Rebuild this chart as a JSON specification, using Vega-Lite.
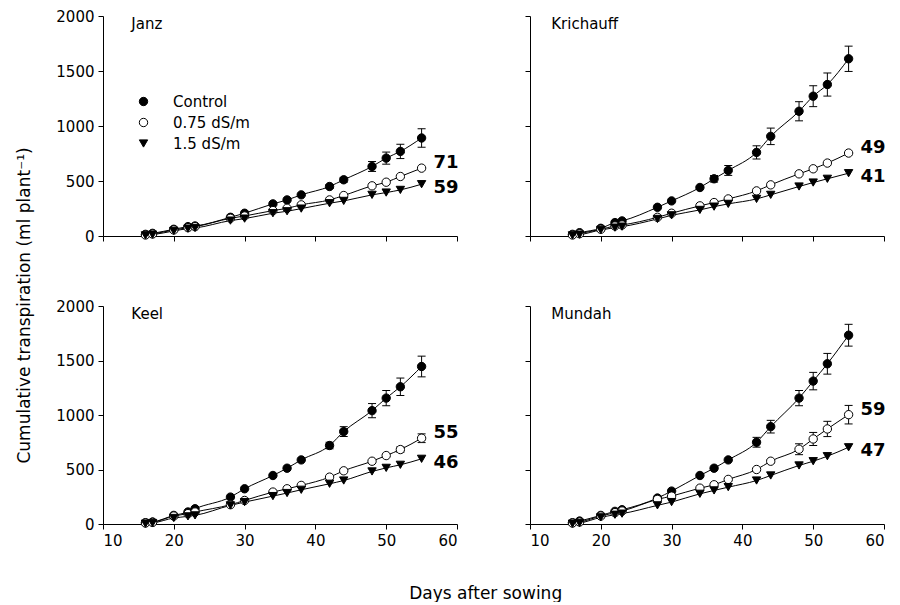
{
"$schema": "https://vega.github.io/schema/vega-lite/v6.json",
"padding": {"left": 15, "top": 9, "right": 0, "bottom": 0},
"background": "white",
"config": {
 "font": "DejaVu Sans",
 "view": {"stroke": null},
 "axis": {"domainColor": "black", "tickColor": "black", "labelColor": "black", "grid": false, "labelFontSize": 15, "tickSize": 5, "labelPadding": 4, "domainWidth": 1, "tickWidth": 1, "format": "d"},
 "title": {"fontSize": 17, "fontWeight": "normal", "color": "black"}
},
"title": {"text": "Cumulative transpiration (ml plant⁻¹)", "orient": "left", "anchor": "middle", "offset": 22, "fontSize": 17, "fontWeight": "normal"},
"data": {"values": [
{"site":"Janz","trt":"Control","day":16,"v":15},{"site":"Janz","trt":"Control","day":17,"v":24},{"site":"Janz","trt":"Control","day":20,"v":61},{"site":"Janz","trt":"Control","day":22,"v":85},{"site":"Janz","trt":"Control","day":23,"v":91},{"site":"Janz","trt":"Control","day":28,"v":170},{"site":"Janz","trt":"Control","day":30,"v":207},{"site":"Janz","trt":"Control","day":34,"v":292},{"site":"Janz","trt":"Control","day":36,"v":328},{"site":"Janz","trt":"Control","day":38,"v":374},{"site":"Janz","trt":"Control","day":42,"v":450,"lo":432,"hi":468},{"site":"Janz","trt":"Control","day":44,"v":511,"lo":489,"hi":533},{"site":"Janz","trt":"Control","day":48,"v":632,"lo":587,"hi":677},{"site":"Janz","trt":"Control","day":50,"v":708,"lo":653,"hi":763},{"site":"Janz","trt":"Control","day":52,"v":769,"lo":704,"hi":834},{"site":"Janz","trt":"Control","day":55,"v":891,"lo":807,"hi":975},
{"site":"Janz","trt":"0.75 dS/m","day":16,"v":9},{"site":"Janz","trt":"0.75 dS/m","day":17,"v":18},{"site":"Janz","trt":"0.75 dS/m","day":20,"v":55},{"site":"Janz","trt":"0.75 dS/m","day":22,"v":76},{"site":"Janz","trt":"0.75 dS/m","day":23,"v":85},{"site":"Janz","trt":"0.75 dS/m","day":28,"v":161},{"site":"Janz","trt":"0.75 dS/m","day":30,"v":182},{"site":"Janz","trt":"0.75 dS/m","day":34,"v":231},{"site":"Janz","trt":"0.75 dS/m","day":36,"v":252},{"site":"Janz","trt":"0.75 dS/m","day":38,"v":283},{"site":"Janz","trt":"0.75 dS/m","day":42,"v":328},{"site":"Janz","trt":"0.75 dS/m","day":44,"v":368},{"site":"Janz","trt":"0.75 dS/m","day":48,"v":456},{"site":"Janz","trt":"0.75 dS/m","day":50,"v":489},{"site":"Janz","trt":"0.75 dS/m","day":52,"v":541},{"site":"Janz","trt":"0.75 dS/m","day":55,"v":617,"lab":"71"},
{"site":"Janz","trt":"1.5 dS/m","day":16,"v":6},{"site":"Janz","trt":"1.5 dS/m","day":17,"v":12},{"site":"Janz","trt":"1.5 dS/m","day":20,"v":46},{"site":"Janz","trt":"1.5 dS/m","day":22,"v":67},{"site":"Janz","trt":"1.5 dS/m","day":23,"v":73},{"site":"Janz","trt":"1.5 dS/m","day":28,"v":140},{"site":"Janz","trt":"1.5 dS/m","day":30,"v":158},{"site":"Janz","trt":"1.5 dS/m","day":34,"v":207},{"site":"Janz","trt":"1.5 dS/m","day":36,"v":225},{"site":"Janz","trt":"1.5 dS/m","day":38,"v":249},{"site":"Janz","trt":"1.5 dS/m","day":42,"v":298},{"site":"Janz","trt":"1.5 dS/m","day":44,"v":319},{"site":"Janz","trt":"1.5 dS/m","day":48,"v":374},{"site":"Janz","trt":"1.5 dS/m","day":50,"v":395},{"site":"Janz","trt":"1.5 dS/m","day":52,"v":419},{"site":"Janz","trt":"1.5 dS/m","day":55,"v":471,"lab":"59"},
{"site":"Krichauff","trt":"Control","day":16,"v":15},{"site":"Krichauff","trt":"Control","day":17,"v":30},{"site":"Krichauff","trt":"Control","day":20,"v":70},{"site":"Krichauff","trt":"Control","day":22,"v":122},{"site":"Krichauff","trt":"Control","day":23,"v":137},{"site":"Krichauff","trt":"Control","day":28,"v":261},{"site":"Krichauff","trt":"Control","day":30,"v":319},{"site":"Krichauff","trt":"Control","day":34,"v":441},{"site":"Krichauff","trt":"Control","day":36,"v":520,"lo":490,"hi":550},{"site":"Krichauff","trt":"Control","day":38,"v":596,"lo":551,"hi":641},{"site":"Krichauff","trt":"Control","day":42,"v":760,"lo":700,"hi":820},{"site":"Krichauff","trt":"Control","day":44,"v":906,"lo":831,"hi":981},{"site":"Krichauff","trt":"Control","day":48,"v":1134,"lo":1047,"hi":1221},{"site":"Krichauff","trt":"Control","day":50,"v":1271,"lo":1176,"hi":1366},{"site":"Krichauff","trt":"Control","day":52,"v":1377,"lo":1272,"hi":1482},{"site":"Krichauff","trt":"Control","day":55,"v":1611,"lo":1496,"hi":1726},
{"site":"Krichauff","trt":"0.75 dS/m","day":16,"v":9},{"site":"Krichauff","trt":"0.75 dS/m","day":17,"v":21},{"site":"Krichauff","trt":"0.75 dS/m","day":20,"v":61},{"site":"Krichauff","trt":"0.75 dS/m","day":22,"v":91},{"site":"Krichauff","trt":"0.75 dS/m","day":23,"v":100},{"site":"Krichauff","trt":"0.75 dS/m","day":28,"v":170},{"site":"Krichauff","trt":"0.75 dS/m","day":30,"v":207},{"site":"Krichauff","trt":"0.75 dS/m","day":34,"v":274},{"site":"Krichauff","trt":"0.75 dS/m","day":36,"v":304},{"site":"Krichauff","trt":"0.75 dS/m","day":38,"v":337},{"site":"Krichauff","trt":"0.75 dS/m","day":42,"v":410},{"site":"Krichauff","trt":"0.75 dS/m","day":44,"v":465},{"site":"Krichauff","trt":"0.75 dS/m","day":48,"v":565},{"site":"Krichauff","trt":"0.75 dS/m","day":50,"v":611},{"site":"Krichauff","trt":"0.75 dS/m","day":52,"v":663},{"site":"Krichauff","trt":"0.75 dS/m","day":55,"v":754,"lab":"49"},
{"site":"Krichauff","trt":"1.5 dS/m","day":16,"v":6},{"site":"Krichauff","trt":"1.5 dS/m","day":17,"v":12},{"site":"Krichauff","trt":"1.5 dS/m","day":20,"v":55},{"site":"Krichauff","trt":"1.5 dS/m","day":22,"v":76},{"site":"Krichauff","trt":"1.5 dS/m","day":23,"v":85},{"site":"Krichauff","trt":"1.5 dS/m","day":28,"v":155},{"site":"Krichauff","trt":"1.5 dS/m","day":30,"v":188},{"site":"Krichauff","trt":"1.5 dS/m","day":34,"v":237},{"site":"Krichauff","trt":"1.5 dS/m","day":36,"v":267},{"site":"Krichauff","trt":"1.5 dS/m","day":38,"v":292},{"site":"Krichauff","trt":"1.5 dS/m","day":42,"v":337},{"site":"Krichauff","trt":"1.5 dS/m","day":44,"v":374},{"site":"Krichauff","trt":"1.5 dS/m","day":48,"v":450},{"site":"Krichauff","trt":"1.5 dS/m","day":50,"v":486},{"site":"Krichauff","trt":"1.5 dS/m","day":52,"v":520},{"site":"Krichauff","trt":"1.5 dS/m","day":55,"v":571,"lab":"41"},
{"site":"Keel","trt":"Control","day":16,"v":12},{"site":"Keel","trt":"Control","day":17,"v":18},{"site":"Keel","trt":"Control","day":20,"v":79},{"site":"Keel","trt":"Control","day":22,"v":110},{"site":"Keel","trt":"Control","day":23,"v":140},{"site":"Keel","trt":"Control","day":28,"v":247},{"site":"Keel","trt":"Control","day":30,"v":323},{"site":"Keel","trt":"Control","day":34,"v":445},{"site":"Keel","trt":"Control","day":36,"v":512},{"site":"Keel","trt":"Control","day":38,"v":588},{"site":"Keel","trt":"Control","day":42,"v":720,"lo":690,"hi":750},{"site":"Keel","trt":"Control","day":44,"v":848,"lo":803,"hi":893},{"site":"Keel","trt":"Control","day":48,"v":1040,"lo":975,"hi":1105},{"site":"Keel","trt":"Control","day":50,"v":1155,"lo":1085,"hi":1225},{"site":"Keel","trt":"Control","day":52,"v":1259,"lo":1179,"hi":1339},{"site":"Keel","trt":"Control","day":55,"v":1445,"lo":1350,"hi":1540},
{"site":"Keel","trt":"0.75 dS/m","day":16,"v":9},{"site":"Keel","trt":"0.75 dS/m","day":17,"v":15},{"site":"Keel","trt":"0.75 dS/m","day":20,"v":73},{"site":"Keel","trt":"0.75 dS/m","day":22,"v":95},{"site":"Keel","trt":"0.75 dS/m","day":23,"v":110},{"site":"Keel","trt":"0.75 dS/m","day":28,"v":177},{"site":"Keel","trt":"0.75 dS/m","day":30,"v":216},{"site":"Keel","trt":"0.75 dS/m","day":34,"v":293},{"site":"Keel","trt":"0.75 dS/m","day":36,"v":323},{"site":"Keel","trt":"0.75 dS/m","day":38,"v":354},{"site":"Keel","trt":"0.75 dS/m","day":42,"v":430},{"site":"Keel","trt":"0.75 dS/m","day":44,"v":488},{"site":"Keel","trt":"0.75 dS/m","day":48,"v":576},{"site":"Keel","trt":"0.75 dS/m","day":50,"v":628},{"site":"Keel","trt":"0.75 dS/m","day":52,"v":683,"lo":658,"hi":708},{"site":"Keel","trt":"0.75 dS/m","day":55,"v":787,"lo":747,"hi":827,"lab":"55"},
{"site":"Keel","trt":"1.5 dS/m","day":16,"v":3},{"site":"Keel","trt":"1.5 dS/m","day":17,"v":9},{"site":"Keel","trt":"1.5 dS/m","day":20,"v":55},{"site":"Keel","trt":"1.5 dS/m","day":22,"v":70},{"site":"Keel","trt":"1.5 dS/m","day":23,"v":79},{"site":"Keel","trt":"1.5 dS/m","day":28,"v":171},{"site":"Keel","trt":"1.5 dS/m","day":30,"v":201},{"site":"Keel","trt":"1.5 dS/m","day":34,"v":256},{"site":"Keel","trt":"1.5 dS/m","day":36,"v":284},{"site":"Keel","trt":"1.5 dS/m","day":38,"v":314},{"site":"Keel","trt":"1.5 dS/m","day":42,"v":369},{"site":"Keel","trt":"1.5 dS/m","day":44,"v":399},{"site":"Keel","trt":"1.5 dS/m","day":48,"v":482},{"site":"Keel","trt":"1.5 dS/m","day":50,"v":515},{"site":"Keel","trt":"1.5 dS/m","day":52,"v":543},{"site":"Keel","trt":"1.5 dS/m","day":55,"v":598,"lab":"46"},
{"site":"Mundah","trt":"Control","day":16,"v":12},{"site":"Mundah","trt":"Control","day":17,"v":27},{"site":"Mundah","trt":"Control","day":20,"v":79},{"site":"Mundah","trt":"Control","day":22,"v":116},{"site":"Mundah","trt":"Control","day":23,"v":131},{"site":"Mundah","trt":"Control","day":28,"v":238},{"site":"Mundah","trt":"Control","day":30,"v":302},{"site":"Mundah","trt":"Control","day":34,"v":445},{"site":"Mundah","trt":"Control","day":36,"v":512},{"site":"Mundah","trt":"Control","day":38,"v":588},{"site":"Mundah","trt":"Control","day":42,"v":750,"lo":705,"hi":795},{"site":"Mundah","trt":"Control","day":44,"v":893,"lo":835,"hi":951},{"site":"Mundah","trt":"Control","day":48,"v":1155,"lo":1085,"hi":1225},{"site":"Mundah","trt":"Control","day":50,"v":1311,"lo":1231,"hi":1391},{"site":"Mundah","trt":"Control","day":52,"v":1470,"lo":1375,"hi":1565},{"site":"Mundah","trt":"Control","day":55,"v":1732,"lo":1632,"hi":1832},
{"site":"Mundah","trt":"0.75 dS/m","day":16,"v":9},{"site":"Mundah","trt":"0.75 dS/m","day":17,"v":18},{"site":"Mundah","trt":"0.75 dS/m","day":20,"v":73},{"site":"Mundah","trt":"0.75 dS/m","day":22,"v":104},{"site":"Mundah","trt":"0.75 dS/m","day":23,"v":119},{"site":"Mundah","trt":"0.75 dS/m","day":28,"v":226},{"site":"Mundah","trt":"0.75 dS/m","day":30,"v":256},{"site":"Mundah","trt":"0.75 dS/m","day":34,"v":329},{"site":"Mundah","trt":"0.75 dS/m","day":36,"v":360},{"site":"Mundah","trt":"0.75 dS/m","day":38,"v":409},{"site":"Mundah","trt":"0.75 dS/m","day":42,"v":500},{"site":"Mundah","trt":"0.75 dS/m","day":44,"v":576,"lo":561,"hi":591},{"site":"Mundah","trt":"0.75 dS/m","day":48,"v":686,"lo":636,"hi":736},{"site":"Mundah","trt":"0.75 dS/m","day":50,"v":780,"lo":720,"hi":840},{"site":"Mundah","trt":"0.75 dS/m","day":52,"v":872,"lo":802,"hi":942},{"site":"Mundah","trt":"0.75 dS/m","day":55,"v":1003,"lo":918,"hi":1088,"lab":"59"},
{"site":"Mundah","trt":"1.5 dS/m","day":16,"v":3},{"site":"Mundah","trt":"1.5 dS/m","day":17,"v":9},{"site":"Mundah","trt":"1.5 dS/m","day":20,"v":61},{"site":"Mundah","trt":"1.5 dS/m","day":22,"v":85},{"site":"Mundah","trt":"1.5 dS/m","day":23,"v":95},{"site":"Mundah","trt":"1.5 dS/m","day":28,"v":171},{"site":"Mundah","trt":"1.5 dS/m","day":30,"v":201},{"site":"Mundah","trt":"1.5 dS/m","day":34,"v":277},{"site":"Mundah","trt":"1.5 dS/m","day":36,"v":308},{"site":"Mundah","trt":"1.5 dS/m","day":38,"v":338},{"site":"Mundah","trt":"1.5 dS/m","day":42,"v":399},{"site":"Mundah","trt":"1.5 dS/m","day":44,"v":445},{"site":"Mundah","trt":"1.5 dS/m","day":48,"v":537},{"site":"Mundah","trt":"1.5 dS/m","day":50,"v":576},{"site":"Mundah","trt":"1.5 dS/m","day":52,"v":622},{"site":"Mundah","trt":"1.5 dS/m","day":55,"v":704,"lab":"47"}
]},
"spacing": 55,
"resolve": {"scale": {"shape": "independent", "fill": "independent", "stroke": "independent"}, "legend": {"shape": "independent", "fill": "independent", "stroke": "independent"}},
"vconcat": [
{"hconcat": [
 {"width": 354, "height": 220,
  "transform": [{"filter": "datum.site === 'Janz'"}],
  "encoding": {"x": {"field": "day", "type": "quantitative", "scale": {"domain": [10, 60], "nice": false}, "axis": {"values": [10, 20, 30, 40, 50, 60], "labels": false, "title": null}}},
  "layer": [
   {"mark": {"type": "line", "color": "black", "strokeWidth": 1, "interpolate": "monotone"}, "encoding": {"y": {"field": "v", "type": "quantitative", "scale": {"domain": [0, 2000], "nice": false}, "axis": {"values": [0, 500, 1000, 1500, 2000], "title": null}}, "detail": {"field": "trt"}}},
   {"transform": [{"filter": "isValid(datum.lo)"}], "mark": {"type": "rule", "color": "black", "strokeWidth": 1}, "encoding": {"y": {"field": "lo", "type": "quantitative"}, "y2": {"field": "hi"}}},
   {"transform": [{"filter": "isValid(datum.lo)"}], "mark": {"type": "tick", "orient": "horizontal", "color": "black", "size": 8, "thickness": 1, "opacity": 1}, "encoding": {"y": {"field": "lo", "type": "quantitative"}}},
   {"transform": [{"filter": "isValid(datum.hi)"}], "mark": {"type": "tick", "orient": "horizontal", "color": "black", "size": 8, "thickness": 1, "opacity": 1}, "encoding": {"y": {"field": "hi", "type": "quantitative"}}},
   {"mark": {"type": "point", "filled": true, "strokeWidth": 1, "opacity": 1, "fillOpacity": 1, "strokeOpacity": 1, "size": 70},
    "encoding": {"y": {"field": "v", "type": "quantitative"},
     "shape": {"field": "trt", "type": "nominal", "scale": {"domain": ["Control", "0.75 dS/m", "1.5 dS/m"], "range": ["circle", "circle", "triangle-down"]}, "legend": {"orient": "none", "legendX": 33, "legendY": 78, "title": null, "labelFontSize": 15, "labelColor": "black", "symbolSize": 70, "symbolStrokeWidth": 1, "labelOffset": 22, "rowPadding": 5}},
     "fill": {"field": "trt", "type": "nominal", "scale": {"domain": ["Control", "0.75 dS/m", "1.5 dS/m"], "range": ["black", "white", "black"]}, "legend": {"orient": "none", "legendX": 33, "legendY": 78, "title": null, "labelFontSize": 15, "labelColor": "black", "symbolSize": 70, "symbolStrokeWidth": 1, "labelOffset": 22, "rowPadding": 5}},
     "stroke": {"field": "trt", "type": "nominal", "scale": {"domain": ["Control", "0.75 dS/m", "1.5 dS/m"], "range": ["black", "black", "black"]}, "legend": {"orient": "none", "legendX": 33, "legendY": 78, "title": null, "labelFontSize": 15, "labelColor": "black", "symbolSize": 70, "symbolStrokeWidth": 1, "labelOffset": 22, "rowPadding": 5}}}},
   {"transform": [{"filter": "isValid(datum.lab) && datum.trt === '0.75 dS/m'"}], "mark": {"type": "text", "align": "left", "baseline": "middle", "dx": 12, "dy": -5, "fontSize": 18, "fontWeight": "bold", "color": "black"}, "encoding": {"y": {"field": "v", "type": "quantitative"}, "text": {"field": "lab"}}},
   {"transform": [{"filter": "isValid(datum.lab) && datum.trt === '1.5 dS/m'"}], "mark": {"type": "text", "align": "left", "baseline": "middle", "dx": 12, "dy": 4, "fontSize": 18, "fontWeight": "bold", "color": "black"}, "encoding": {"y": {"field": "v", "type": "quantitative"}, "text": {"field": "lab"}}},
   {"transform": [{"filter": "datum.day === 16 && datum.trt === 'Control'"}], "mark": {"type": "text", "align": "left", "baseline": "middle", "fontSize": 15, "color": "black"}, "encoding": {"x": {"datum": 14}, "y": {"datum": 1930}, "text": {"field": "site"}}}
  ]},
 {"width": 354, "height": 220,
  "transform": [{"filter": "datum.site === 'Krichauff'"}],
  "encoding": {"x": {"field": "day", "type": "quantitative", "scale": {"domain": [10, 60], "nice": false}, "axis": {"values": [10, 20, 30, 40, 50, 60], "labels": false, "title": null}}},
  "layer": [
   {"mark": {"type": "line", "color": "black", "strokeWidth": 1, "interpolate": "monotone"}, "encoding": {"y": {"field": "v", "type": "quantitative", "scale": {"domain": [0, 2000], "nice": false}, "axis": {"values": [0, 500, 1000, 1500, 2000], "labels": false, "title": null}}, "detail": {"field": "trt"}}},
   {"transform": [{"filter": "isValid(datum.lo)"}], "mark": {"type": "rule", "color": "black", "strokeWidth": 1}, "encoding": {"y": {"field": "lo", "type": "quantitative"}, "y2": {"field": "hi"}}},
   {"transform": [{"filter": "isValid(datum.lo)"}], "mark": {"type": "tick", "orient": "horizontal", "color": "black", "size": 8, "thickness": 1, "opacity": 1}, "encoding": {"y": {"field": "lo", "type": "quantitative"}}},
   {"transform": [{"filter": "isValid(datum.hi)"}], "mark": {"type": "tick", "orient": "horizontal", "color": "black", "size": 8, "thickness": 1, "opacity": 1}, "encoding": {"y": {"field": "hi", "type": "quantitative"}}},
   {"mark": {"type": "point", "filled": true, "stroke": "black", "strokeWidth": 1, "opacity": 1, "fillOpacity": 1, "size": 70},
    "encoding": {"y": {"field": "v", "type": "quantitative"},
     "shape": {"field": "trt", "type": "nominal", "scale": {"domain": ["Control", "0.75 dS/m", "1.5 dS/m"], "range": ["circle", "circle", "triangle-down"]}, "legend": null},
     "fill": {"field": "trt", "type": "nominal", "scale": {"domain": ["Control", "0.75 dS/m", "1.5 dS/m"], "range": ["black", "white", "black"]}, "legend": null}}},
   {"transform": [{"filter": "isValid(datum.lab) && datum.trt === '0.75 dS/m'"}], "mark": {"type": "text", "align": "left", "baseline": "middle", "dx": 12, "dy": -5, "fontSize": 18, "fontWeight": "bold", "color": "black"}, "encoding": {"y": {"field": "v", "type": "quantitative"}, "text": {"field": "lab"}}},
   {"transform": [{"filter": "isValid(datum.lab) && datum.trt === '1.5 dS/m'"}], "mark": {"type": "text", "align": "left", "baseline": "middle", "dx": 12, "dy": 4, "fontSize": 18, "fontWeight": "bold", "color": "black"}, "encoding": {"y": {"field": "v", "type": "quantitative"}, "text": {"field": "lab"}}},
   {"transform": [{"filter": "datum.day === 16 && datum.trt === 'Control'"}], "mark": {"type": "text", "align": "left", "baseline": "middle", "fontSize": 15, "color": "black"}, "encoding": {"x": {"datum": 13}, "y": {"datum": 1930}, "text": {"field": "site"}}}
  ]}
 ], "spacing": 73, "bounds": "flush",
 "resolve": {"scale": {"shape": "independent", "fill": "independent", "stroke": "independent"}, "legend": {"shape": "independent", "fill": "independent", "stroke": "independent"}}},
{"hconcat": [
 {"width": 354, "height": 218,
  "transform": [{"filter": "datum.site === 'Keel'"}],
  "encoding": {"x": {"field": "day", "type": "quantitative", "scale": {"domain": [10, 60], "nice": false}, "axis": {"values": [10, 20, 30, 40, 50, 60], "title": null}}},
  "layer": [
   {"mark": {"type": "line", "color": "black", "strokeWidth": 1, "interpolate": "monotone"}, "encoding": {"y": {"field": "v", "type": "quantitative", "scale": {"domain": [0, 2000], "nice": false}, "axis": {"values": [0, 500, 1000, 1500, 2000], "title": null}}, "detail": {"field": "trt"}}},
   {"transform": [{"filter": "isValid(datum.lo)"}], "mark": {"type": "rule", "color": "black", "strokeWidth": 1}, "encoding": {"y": {"field": "lo", "type": "quantitative"}, "y2": {"field": "hi"}}},
   {"transform": [{"filter": "isValid(datum.lo)"}], "mark": {"type": "tick", "orient": "horizontal", "color": "black", "size": 8, "thickness": 1, "opacity": 1}, "encoding": {"y": {"field": "lo", "type": "quantitative"}}},
   {"transform": [{"filter": "isValid(datum.hi)"}], "mark": {"type": "tick", "orient": "horizontal", "color": "black", "size": 8, "thickness": 1, "opacity": 1}, "encoding": {"y": {"field": "hi", "type": "quantitative"}}},
   {"mark": {"type": "point", "filled": true, "stroke": "black", "strokeWidth": 1, "opacity": 1, "fillOpacity": 1, "size": 70},
    "encoding": {"y": {"field": "v", "type": "quantitative"},
     "shape": {"field": "trt", "type": "nominal", "scale": {"domain": ["Control", "0.75 dS/m", "1.5 dS/m"], "range": ["circle", "circle", "triangle-down"]}, "legend": null},
     "fill": {"field": "trt", "type": "nominal", "scale": {"domain": ["Control", "0.75 dS/m", "1.5 dS/m"], "range": ["black", "white", "black"]}, "legend": null}}},
   {"transform": [{"filter": "isValid(datum.lab) && datum.trt === '0.75 dS/m'"}], "mark": {"type": "text", "align": "left", "baseline": "middle", "dx": 12, "dy": -5, "fontSize": 18, "fontWeight": "bold", "color": "black"}, "encoding": {"y": {"field": "v", "type": "quantitative"}, "text": {"field": "lab"}}},
   {"transform": [{"filter": "isValid(datum.lab) && datum.trt === '1.5 dS/m'"}], "mark": {"type": "text", "align": "left", "baseline": "middle", "dx": 12, "dy": 4, "fontSize": 18, "fontWeight": "bold", "color": "black"}, "encoding": {"y": {"field": "v", "type": "quantitative"}, "text": {"field": "lab"}}},
   {"transform": [{"filter": "datum.day === 16 && datum.trt === 'Control'"}], "mark": {"type": "text", "align": "left", "baseline": "middle", "fontSize": 15, "color": "black"}, "encoding": {"x": {"datum": 14}, "y": {"datum": 1930}, "text": {"field": "site"}}}
  ]},
 {"width": 354, "height": 218,
  "transform": [{"filter": "datum.site === 'Mundah'"}],
  "encoding": {"x": {"field": "day", "type": "quantitative", "scale": {"domain": [10, 60], "nice": false}, "axis": {"values": [10, 20, 30, 40, 50, 60], "title": null}}},
  "layer": [
   {"mark": {"type": "line", "color": "black", "strokeWidth": 1, "interpolate": "monotone"}, "encoding": {"y": {"field": "v", "type": "quantitative", "scale": {"domain": [0, 2000], "nice": false}, "axis": {"values": [0, 500, 1000, 1500, 2000], "labels": false, "title": null}}, "detail": {"field": "trt"}}},
   {"transform": [{"filter": "isValid(datum.lo)"}], "mark": {"type": "rule", "color": "black", "strokeWidth": 1}, "encoding": {"y": {"field": "lo", "type": "quantitative"}, "y2": {"field": "hi"}}},
   {"transform": [{"filter": "isValid(datum.lo)"}], "mark": {"type": "tick", "orient": "horizontal", "color": "black", "size": 8, "thickness": 1, "opacity": 1}, "encoding": {"y": {"field": "lo", "type": "quantitative"}}},
   {"transform": [{"filter": "isValid(datum.hi)"}], "mark": {"type": "tick", "orient": "horizontal", "color": "black", "size": 8, "thickness": 1, "opacity": 1}, "encoding": {"y": {"field": "hi", "type": "quantitative"}}},
   {"mark": {"type": "point", "filled": true, "stroke": "black", "strokeWidth": 1, "opacity": 1, "fillOpacity": 1, "size": 70},
    "encoding": {"y": {"field": "v", "type": "quantitative"},
     "shape": {"field": "trt", "type": "nominal", "scale": {"domain": ["Control", "0.75 dS/m", "1.5 dS/m"], "range": ["circle", "circle", "triangle-down"]}, "legend": null},
     "fill": {"field": "trt", "type": "nominal", "scale": {"domain": ["Control", "0.75 dS/m", "1.5 dS/m"], "range": ["black", "white", "black"]}, "legend": null}}},
   {"transform": [{"filter": "isValid(datum.lab) && datum.trt === '0.75 dS/m'"}], "mark": {"type": "text", "align": "left", "baseline": "middle", "dx": 12, "dy": -5, "fontSize": 18, "fontWeight": "bold", "color": "black"}, "encoding": {"y": {"field": "v", "type": "quantitative"}, "text": {"field": "lab"}}},
   {"transform": [{"filter": "isValid(datum.lab) && datum.trt === '1.5 dS/m'"}], "mark": {"type": "text", "align": "left", "baseline": "middle", "dx": 12, "dy": 4, "fontSize": 18, "fontWeight": "bold", "color": "black"}, "encoding": {"y": {"field": "v", "type": "quantitative"}, "text": {"field": "lab"}}},
   {"transform": [{"filter": "datum.day === 16 && datum.trt === 'Control'"}], "mark": {"type": "text", "align": "left", "baseline": "middle", "fontSize": 15, "color": "black"}, "encoding": {"x": {"datum": 13}, "y": {"datum": 1930}, "text": {"field": "site"}}}
  ]}
 ], "spacing": 73, "bounds": "flush",
 "title": {"text": "Days after sowing", "orient": "bottom", "anchor": "middle", "offset": 38, "dx": 15, "fontSize": 17, "fontWeight": "normal"},
 "resolve": {"scale": {"shape": "independent", "fill": "independent", "stroke": "independent"}, "legend": {"shape": "independent", "fill": "independent", "stroke": "independent"}}}
]
}
